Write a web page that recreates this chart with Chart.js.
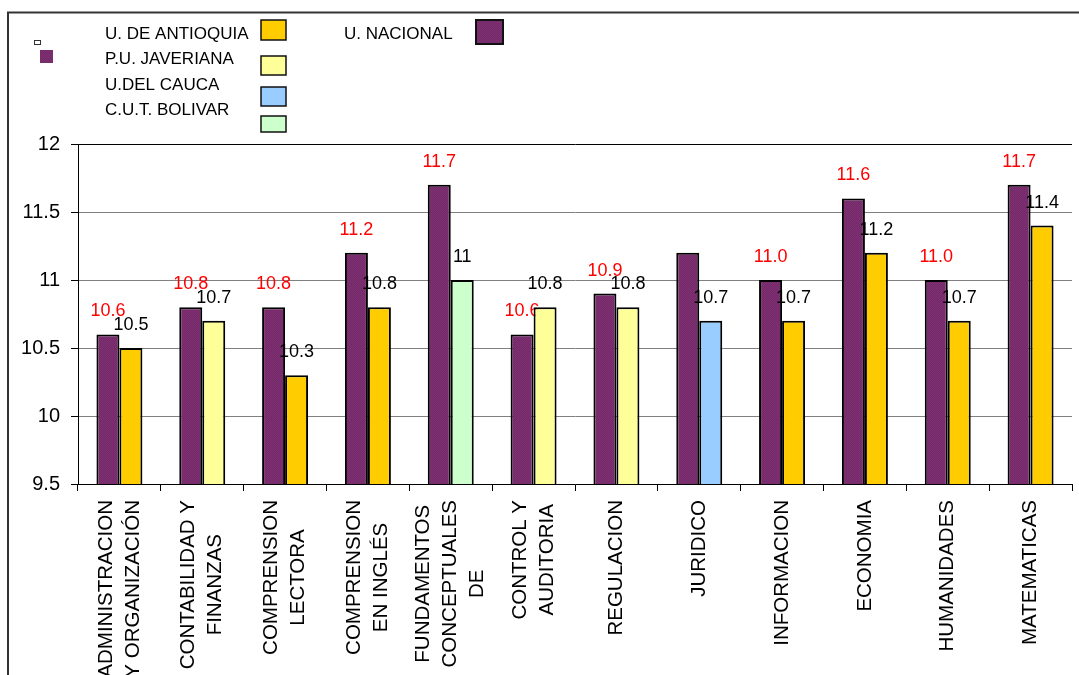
<!DOCTYPE html>
<html>
<head>
<meta charset="utf-8">
<script src="https://cdn.jsdelivr.net/npm/chart.js@4/dist/chart.umd.min.js"></script>
<style>
  body { margin: 0; background: #fff; }
  #grafico { display: block; }
</style>
</head>
<body>
<canvas id="grafico" width="1079" height="675"></canvas>
<script>
// Categorias (eje x), en varias lineas como en la hoja original
const categorias = [
  ["ADMINISTRACION", "Y ORGANIZACIÓN"],
  ["CONTABILIDAD Y", "FINANZAS"],
  ["COMPRENSION", "LECTORA"],
  ["COMPRENSION", "EN INGLÉS"],
  ["FUNDAMENTOS", "CONCEPTUALES", "DE"],
  ["CONTROL Y", "AUDITORIA"],
  ["REGULACION"],
  ["JURIDICO"],
  ["INFORMACION"],
  ["ECONOMIA"],
  ["HUMANIDADES"],
  ["MATEMATICAS"],
];

// Puntajes por universidad
const nacional  = [10.6, 10.8, 10.8, 11.2, 11.7, 10.6, 10.9, 11.2, 11.0, 11.6, 11.0, 11.7];
const antioquia = [10.5, null, 10.3, 10.8, null, null, null, null, 10.7, 11.2, 10.7, 11.4];
const javeriana = [null, 10.7, null, null, null, 10.8, 10.8, null, null, null, null, null];
const cauca     = [null, null, null, null, null, null, null, 10.7, null, null, null, null];
const bolivar   = [null, null, null, null, 11, null, null, null, null, null, null, null];

// Etiquetas rojas de U. NACIONAL (juridico no tiene)
const etiquetasNacional = ["10.6", "10.8", "10.8", "11.2", "11.7", "10.6", "10.9", null, "11.0", "11.6", "11.0", "11.7"];

// Eje y
const yMin = 9.5;
const yMax = 12;
const yPaso = 0.5;

const fuente = "'Liberation Sans', Arial, sans-serif";

// trama a cuadros rojo/azul de la serie U. NACIONAL
function tramaNacional() {
  const c = document.createElement("canvas");
  c.width = 2;
  c.height = 2;
  const g = c.getContext("2d");
  const img = g.createImageData(2, 2);
  const rojo = [150, 40, 92];
  const azul = [92, 50, 128];
  [rojo, azul, azul, rojo].forEach((col, k) => {
    img.data[k * 4] = col[0];
    img.data[k * 4 + 1] = col[1];
    img.data[k * 4 + 2] = col[2];
    img.data[k * 4 + 3] = 255;
  });
  g.putImageData(img, 0, 0);
  return document.getElementById("grafico").getContext("2d").createPattern(c, "repeat");
}
const trama = tramaNacional();

// marco, leyenda y textos del eje x
const dibujosExtra = {
  id: "dibujosExtra",
  beforeDraw(chart) {
    const ctx = chart.ctx;
    ctx.save();
    ctx.fillStyle = "#fff";
    ctx.fillRect(0, 0, chart.width, chart.height);
    ctx.strokeStyle = "#333";
    ctx.lineWidth = 2;
    ctx.strokeRect(8, 12.5, 1200, 800);
    ctx.restore();
  },
  beforeDatasetsDraw(chart) {
    // etiquetas rojas (quedan bajo las barras vecinas)
    const ctx = chart.ctx;
    const meta = chart.getDatasetMeta(0);
    ctx.save();
    ctx.font = "18px " + fuente;
    ctx.fillStyle = "#FF0000";
    ctx.textAlign = "center";
    ctx.textBaseline = "middle";
    meta.data.forEach((bar, i) => {
      if (etiquetasNacional[i] == null) return;
      ctx.fillText(etiquetasNacional[i], bar.x, bar.y - 23);
    });
    ctx.restore();
  },
  afterDatasetsDraw(chart) {
    const ctx = chart.ctx;
    ctx.save();
    ctx.font = "18px " + fuente;
    ctx.fillStyle = "#000";
    ctx.textAlign = "center";
    ctx.textBaseline = "middle";
    for (let d = 1; d < chart.data.datasets.length; d++) {
      const valores = chart.data.datasets[d].data;
      chart.getDatasetMeta(d).data.forEach((bar, i) => {
        if (valores[i] == null) return;
        ctx.fillText(String(valores[i]), bar.x, bar.y - 23);
      });
    }
    ctx.restore();
  },
  afterDraw(chart) {
    const ctx = chart.ctx;
    const x = chart.scales.x;
    ctx.save();

    // textos del eje x, girados 90 grados
    ctx.font = "20.5px " + fuente;
    ctx.fillStyle = "#000";
    ctx.textAlign = "center";
    ctx.textBaseline = "middle";
    categorias.forEach((lineas, i) => {
      const cx = x.getPixelForValue(i);
      const ancho = Math.max(...lineas.map((l) => ctx.measureText(l).width));
      const alto = 27;
      lineas.forEach((l, j) => {
        const lx = cx + (j - (lineas.length - 1) / 2) * alto;
        ctx.save();
        ctx.translate(lx, 500 + ancho / 2);
        ctx.rotate(-Math.PI / 2);
        ctx.fillText(l, 0, 0);
        ctx.restore();
      });
    });

    // leyenda
    ctx.strokeStyle = "#333";
    ctx.lineWidth = 1;
    ctx.strokeRect(34.5, 40.5, 6, 4);
    ctx.fillStyle = trama;
    ctx.fillRect(40, 50, 13, 13);

    ctx.font = "17px " + fuente;
    ctx.textAlign = "left";
    const items = [
      { t: "U. DE ANTIOQUIA", ty: 34, c: "#FFCC00", y: 20, h: 20 },
      { t: "P.U. JAVERIANA", ty: 59, c: "#FFFF99", y: 56, h: 19 },
      { t: "U.DEL CAUCA", ty: 85, c: "#99CCFF", y: 87, h: 19 },
      { t: "C.U.T. BOLIVAR", ty: 110, c: "#CCFFCC", y: 116, h: 16 },
    ];
    items.forEach((it) => {
      ctx.fillStyle = "#000";
      ctx.fillText(it.t, 105, it.ty);
      ctx.fillStyle = it.c;
      ctx.fillRect(261, it.y, 25, it.h);
      ctx.strokeStyle = "#111";
      ctx.lineWidth = 1.5;
      ctx.strokeRect(261, it.y, 25, it.h);
    });
    ctx.fillStyle = "#000";
    ctx.fillText("U. NACIONAL", 344, 34);
    ctx.fillStyle = trama;
    ctx.fillRect(476, 20, 27, 24);
    ctx.strokeStyle = "#111";
    ctx.lineWidth = 2;
    ctx.strokeRect(476, 20, 27, 24);

    ctx.restore();
  },
};

function serie(nombre, datos, color) {
  return {
    label: nombre,
    data: datos,
    backgroundColor: color,
    borderColor: "#000",
    borderWidth: 2,
    borderSkipped: false,
    skipNull: true,
    categoryPercentage: 0.555,
    barPercentage: 1,
  };
}

new Chart(document.getElementById("grafico"), {
  type: "bar",
  data: {
    labels: categorias.map((l) => l.join(" ")),
    datasets: [
      serie("U. NACIONAL", nacional, trama),
      serie("U. DE ANTIOQUIA", antioquia, "#FFCC00"),
      serie("P.U. JAVERIANA", javeriana, "#FFFF99"),
      serie("U.DEL CAUCA", cauca, "#99CCFF"),
      serie("C.U.T. BOLIVAR", bolivar, "#CCFFCC"),
    ],
  },
  options: {
    responsive: false,
    animation: false,
    layout: {
      padding: { top: 144, left: 0, right: 7, bottom: 0 },
    },
    plugins: {
      legend: { display: false },
      title: { display: false },
      tooltip: { enabled: false },
    },
    scales: {
      x: {
        offset: true,
        grid: {
          offset: true,
          drawOnChartArea: false,
          drawTicks: true,
          tickLength: 7,
          color: "#000",
        },
        border: { color: "#000", width: 1 },
        ticks: { display: false },
        afterFit(scale) {
          scale.height = 191;
        },
      },
      y: {
        min: yMin,
        max: yMax,
        grid: {
          color: (c) => (c.tick && c.tick.value === yMax ? "#000" : "#808080"),
          tickColor: "#000",
          tickLength: 7,
          lineWidth: 1,
        },
        border: { color: "#000", width: 1 },
        ticks: {
          stepSize: yPaso,
          color: "#000",
          padding: 11,
          font: { family: fuente, size: 20 },
          callback: (v) => String(Math.round(v * 10) / 10),
        },
        afterFit(scale) {
          scale.width = 78;
        },
      },
    },
  },
  plugins: [dibujosExtra],
});
</script>
</body>
</html>
